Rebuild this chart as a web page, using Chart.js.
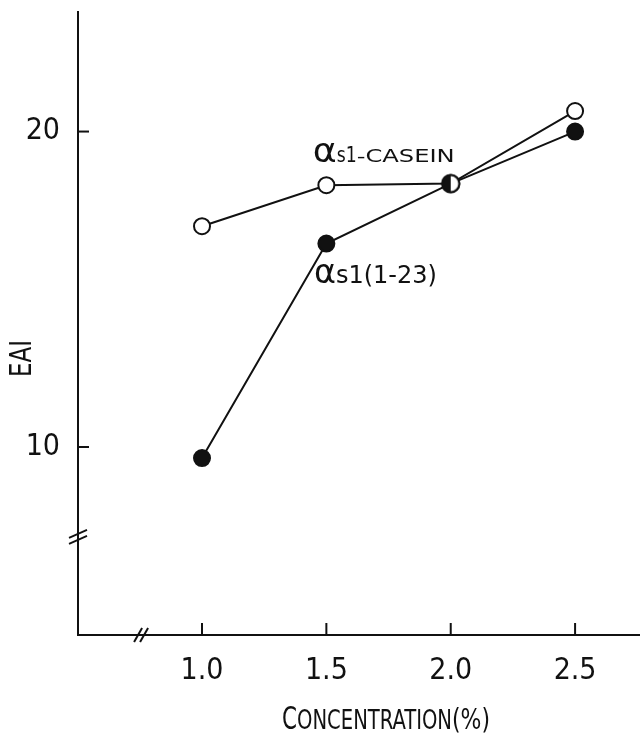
<!DOCTYPE html>
<html>
<head>
<meta charset="utf-8">
<script src="https://cdn.jsdelivr.net/npm/chart.js@4"></script>
<style>
  html, body { margin: 0; padding: 0; background: #fff; }
  #wrap { width: 640px; height: 736px; position: relative; }
</style>
</head>
<body>
<div id="wrap"><canvas id="chart" width="640" height="736"></canvas></div>
<script>
// ==========================================
// DATA
// ==========================================
const concentration = [1.0, 1.5, 2.0, 2.5];          // %
const caseinEAI     = [17.0, 18.3, 18.35, 20.65];    // alpha-s1 casein
const peptideEAI    = [9.65, 16.45, 18.35, 20.0];    // alpha-s1 (1-23)
const xTickValues   = [1.0, 1.5, 2.0, 2.5];
const yTickValues   = [10, 20];

const FONT = '"DejaVu Sans Condensed", "Liberation Sans Narrow", "DejaVu Sans", sans-serif';
const INK  = '#111';

// half filled marker where both series meet
function halfMarker() {
    const r = 8.5, size = 22, c = document.createElement('canvas');
    c.width = size; c.height = size;
    const g = c.getContext('2d');
    g.beginPath(); g.arc(size / 2, size / 2, r, 0, Math.PI * 2); g.fillStyle = '#fff'; g.fill();
    g.beginPath(); g.arc(size / 2, size / 2, r, Math.PI / 2, Math.PI * 1.5); g.closePath();
    g.fillStyle = INK; g.fill();
    g.beginPath(); g.arc(size / 2, size / 2, r, 0, Math.PI * 2);
    g.lineWidth = 2; g.strokeStyle = INK; g.stroke();
    return c;
}
const half = halfMarker();
const styles = concentration.map((x, i) => (i === 2 ? half : 'circle'));

// ==========================================
// EXTRA DRAWING: inward ticks, axis breaks, labels
// ==========================================
// draws pieces of text one after another, each squeezed/stretched to width w
function drawRich(ctx, parts, x, y) {
    parts.forEach(p => {
        ctx.font = p.size + 'px ' + FONT;
        const natural = ctx.measureText(p.t).width;
        const sx = p.w ? p.w / natural : 1;
        ctx.save();
        ctx.translate(x, y);
        ctx.scale(sx, 1);
        ctx.fillText(p.t, 0, 0);
        ctx.restore();
        x += natural * sx;
    });
}

const extras = {
    id: 'extras',
    afterDraw(chart) {
        const ctx = chart.ctx, xs = chart.scales.x, ys = chart.scales.y;
        const area = chart.chartArea;
        ctx.save();
        ctx.strokeStyle = INK; ctx.fillStyle = INK; ctx.lineWidth = 2;

        // ticks pointing into the plot
        xTickValues.forEach(v => {
            const px = xs.getPixelForValue(v);
            ctx.beginPath(); ctx.moveTo(px, area.bottom); ctx.lineTo(px, area.bottom - 12); ctx.stroke();
        });
        yTickValues.forEach(v => {
            const py = ys.getPixelForValue(v);
            ctx.beginPath(); ctx.moveTo(area.left, py); ctx.lineTo(area.left + 11, py); ctx.stroke();
        });

        // axis break marks
        const by = ys.getPixelForValue(7.15);
        [-3, 3].forEach(o => {
            ctx.beginPath(); ctx.moveTo(area.left - 9, by + o + 4); ctx.lineTo(area.left + 9, by + o - 4); ctx.stroke();
        });
        const bx = xs.getPixelForValue(0.755);
        [-3, 3].forEach(o => {
            ctx.beginPath(); ctx.moveTo(bx + o - 4, area.bottom + 7); ctx.lineTo(bx + o + 4, area.bottom - 7); ctx.stroke();
        });

        ctx.textBaseline = 'alphabetic'; ctx.textAlign = 'left';

        // series labels
        drawRich(ctx, [
            { t: 'α', size: 33, w: 24 },
            { t: 's1', size: 22, w: 20 },
            { t: '-CASEIN', size: 18, w: 98 }
        ], xs.getPixelForValue(1.445), ys.getPixelForValue(19.02));
        drawRich(ctx, [
            { t: 'α', size: 33, w: 22 },
            { t: 's1(1-23)', size: 24, w: 101 }
        ], xs.getPixelForValue(1.45), ys.getPixelForValue(15.2));

        // x axis title in small caps
        drawRich(ctx, [
            { t: 'C', size: 32, w: 15 },
            { t: 'ONCENTRATION', size: 26, w: 155 },
            { t: '(%)', size: 28, w: 38 }
        ], 282, 729);

        // y axis title
        ctx.save();
        ctx.translate(31, 377);
        ctx.rotate(-Math.PI / 2);
        drawRich(ctx, [{ t: 'EAI', size: 30, w: 37 }], 0, 0);
        ctx.restore();

        ctx.restore();
    }
};

// ==========================================
// CHART
// ==========================================
new Chart(document.getElementById('chart'), {
    type: 'line',
    data: {
        datasets: [
            {
                label: 'αs1-casein',
                data: concentration.map((x, i) => ({ x, y: caseinEAI[i] })),
                borderColor: INK, borderWidth: 2,
                pointStyle: styles, pointRadius: 8, pointBorderWidth: 2,
                pointBackgroundColor: '#fff', pointBorderColor: INK
            },
            {
                label: 'αs1(1-23)',
                data: concentration.map((x, i) => ({ x, y: peptideEAI[i] })),
                borderColor: INK, borderWidth: 2,
                pointStyle: styles, pointRadius: 8, pointBorderWidth: 2,
                pointBackgroundColor: INK, pointBorderColor: INK
            }
        ]
    },
    options: {
        responsive: false,
        animation: false,
        layout: { autoPadding: false, padding: { top: 12, right: 0, left: 0, bottom: 0 } },
        plugins: { legend: { display: false }, tooltip: { enabled: false } },
        scales: {
            x: {
                type: 'linear', min: 0.5014, max: 2.761,
                afterBuildTicks: s => { s.ticks = xTickValues.map(v => ({ value: v })); },
                afterFit: s => { s.height = 101; s.paddingLeft = 0; s.paddingRight = 0; },
                grid: { drawOnChartArea: false, drawTicks: false },
                border: { color: INK, width: 2 },
                ticks: {
                    padding: 18, color: INK,
                    font: { family: FONT, size: 30 },
                    callback: v => v.toFixed(1)
                }
            },
            y: {
                type: 'linear', min: 4.04, max: 23.79,
                afterBuildTicks: s => { s.ticks = yTickValues.map(v => ({ value: v })); },
                afterFit: s => { s.width = 78; s.paddingTop = 0; s.paddingBottom = 0; },
                grid: { drawOnChartArea: false, drawTicks: false },
                border: { color: INK, width: 2 },
                ticks: {
                    padding: 18, color: INK,
                    font: { family: FONT, size: 30 }
                }
            }
        }
    },
    plugins: [extras]
});
</script>
</body>
</html>
